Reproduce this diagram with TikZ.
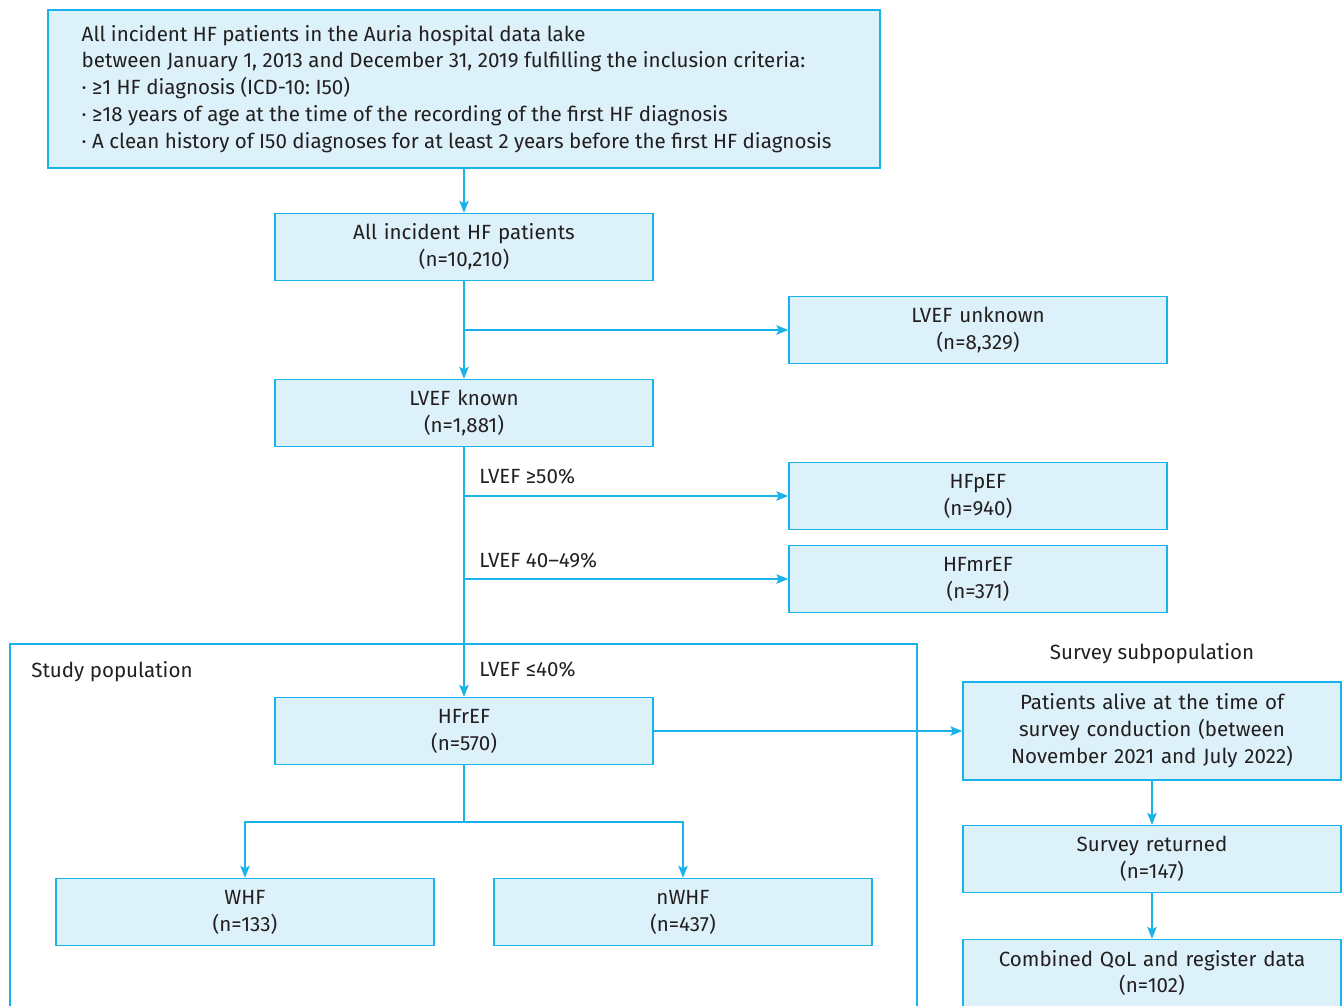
\documentclass[tikz,border=0pt]{standalone}
\usepackage{fontspec}
\setmainfont{Fira Sans}
\frenchspacing
\usetikzlibrary{arrows.meta, positioning, calc}
\definecolor{flowline}{HTML}{1AB2EA}
\definecolor{flowfill}{HTML}{DCF1FA}
\definecolor{flowtext}{HTML}{231F20}
\newcommand{\flowfont}{\fontsize{11.7}{15.3}\selectfont}
\tikzset{
    box/.style={rectangle, draw=flowline, fill=flowfill, line width=0.8pt, text width=7.2cm, align=center, inner xsep=0.18cm, inner ysep=0pt, minimum height=1.34cm, text=flowtext, font=\flowfont},
    tallbox/.style={box, minimum height=1.96cm},
    critbox/.style={rectangle, draw=flowline, fill=flowfill, line width=0.8pt, inner sep=0pt, minimum width=16.64cm, minimum height=3.16cm},
    lbl/.style={text=flowtext, font=\flowfont, inner sep=0pt},
    link/.style={draw=flowline, line width=0.8pt},
    arrow/.style={link, -{Stealth[length=0.24cm, width=0.19cm, inset=0.05cm]}},
}
\begin{document}
\begin{tikzpicture}[x=0.02cm, y=-0.02cm]
    \useasboundingbox (0,0) rectangle (1342,1005);

    % inclusion criteria
    \node[critbox] (crit) at (464,89) {};
    \node[lbl, align=left, anchor=west, right=0.68cm of crit.west] (critText) {All incident HF patients in the Auria hospital data lake\\
        between January 1, 2013 and December 31, 2019 fulfilling the inclusion criteria:\\
        · ≥1 HF diagnosis (ICD-10: I50)\\
        · ≥18 years of age at the time of the recording of the first HF diagnosis\\
        · A clean history of I50 diagnoses for at least 2 years before the first HF diagnosis};

    % main column
    \node[box] (allinc) at (464,247) {All incident HF patients\\(n=10,210)};
    \node[box] (known) at (464,413) {LVEF known\\(n=1,881)};
    \node[box] (hfref) at (464,731) {HFrEF\\(n=570)};
    \node[box] (whf) at (245,912) {WHF\\(n=133)};
    \node[box] (nwhf) at (683,912) {nWHF\\(n=437)};

    % excluded / other groups
    \node[box] (unknown) at (978,330) {LVEF unknown\\(n=8,329)};
    \node[box] (hfpef) at (978,496) {HFpEF\\(n=940)};
    \node[box] (hfmref) at (978,579) {HFmrEF\\(n=371)};

    % survey subpopulation
    \node[tallbox] (alive) at (1152,731) {Patients alive at the time of\\survey conduction (between\\November 2021 and July 2022)};
    \node[box] (returned) at (1152,859) {Survey returned\\(n=147)};
    \node[box] (combined) at (1152,973) {Combined QoL and register data\\(n=102)};

    % labels
    \node[lbl, anchor=west] (ge50) at (479,476) {LVEF ≥50\%};
    \node[lbl, anchor=west] (mid) at (479,560) {LVEF 40–49\%};
    \node[lbl, anchor=west] (le40) at (479,669) {LVEF ≤40\%};
    \node[lbl, anchor=west] (study) at (31,672) {Study population};
    \node[lbl] (survey) at (1152,654) {Survey subpopulation};

    % study population frame
    \draw[link] (10,1010) |- (917,644) -- (917,1010);

    % connectors
    \draw[arrow] (crit.south -| allinc.north) -- (allinc.north);
    \draw[arrow] (allinc.south) -- (known.north);
    \draw[arrow] (allinc.south |- unknown.west) -- (unknown.west);
    \draw[arrow] (known.south) -- (hfref.north);
    \draw[arrow] (known.south |- hfpef.west) -- (hfpef.west);
    \draw[arrow] (known.south |- hfmref.west) -- (hfmref.west);
    \coordinate (split) at (464,822);
    \draw[link] (hfref.south) -- (split);
    \draw[arrow] (split) -| (whf.north);
    \draw[arrow] (split) -| (nwhf.north);
    \draw[arrow] (hfref.east) -- (alive.west);
    \draw[arrow] (alive.south) -- (returned.north);
    \draw[arrow] (returned.south) -- (combined.north);
\end{tikzpicture}
\end{document}
